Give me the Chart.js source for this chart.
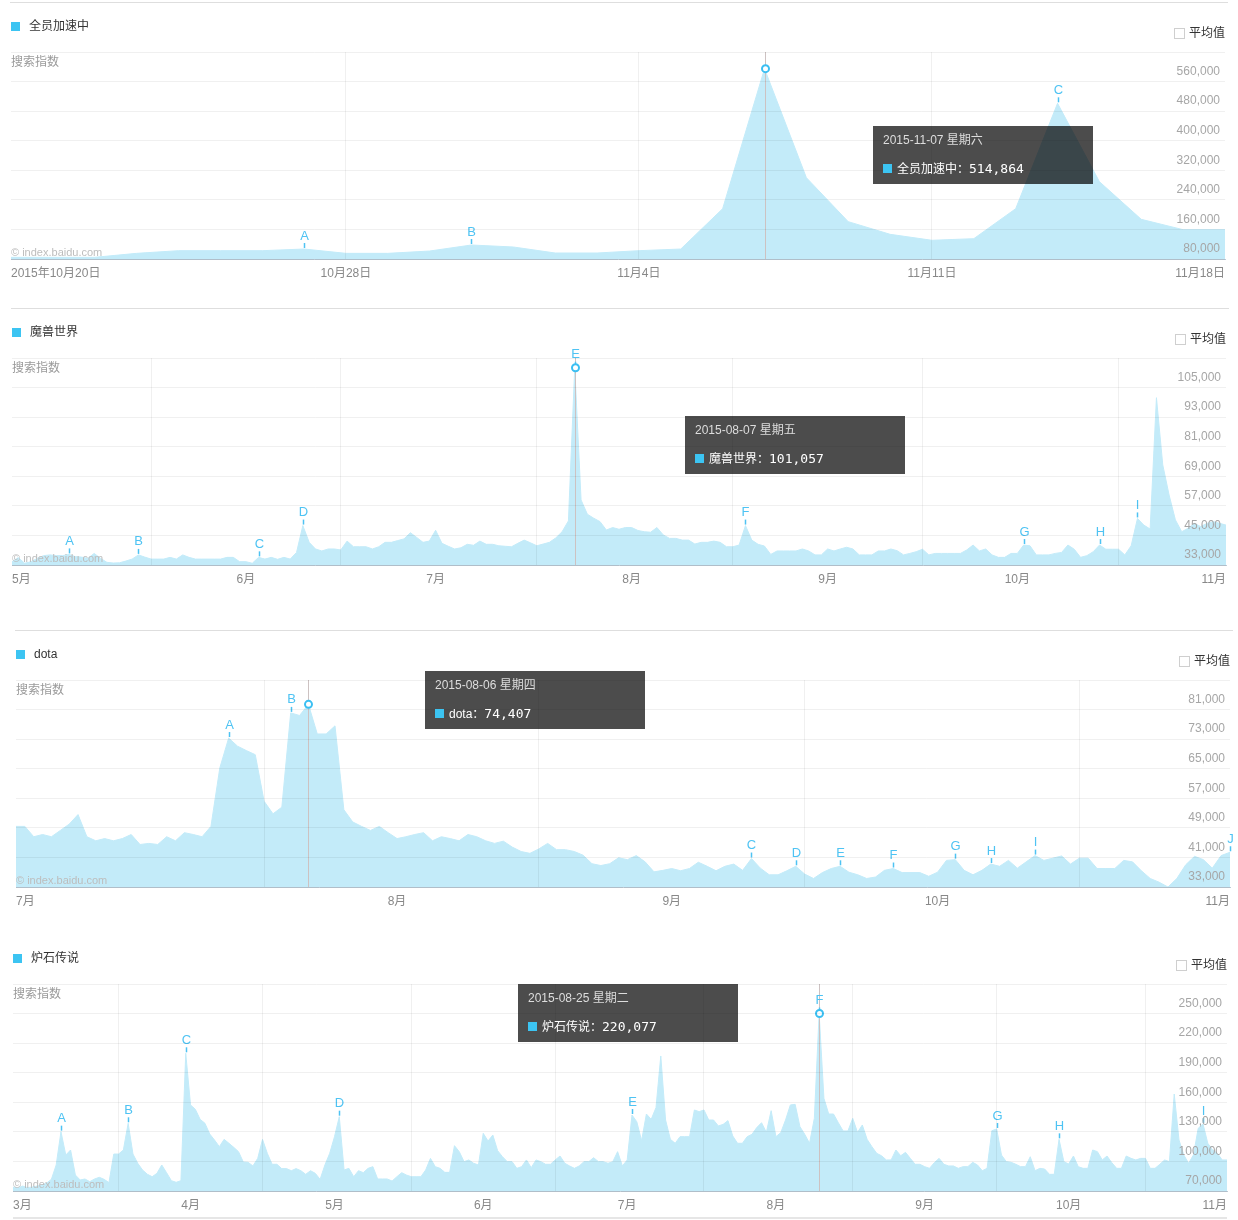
<!DOCTYPE html>
<html lang="zh-CN">
<head>
<meta charset="utf-8">
<title>百度指数 - 搜索指数</title>
<script src="https://cdn.jsdelivr.net/npm/chart.js@4.4.1/dist/chart.umd.min.js"></script>
<style>
html, body { margin: 0; padding: 0; background: #fff; }
body { position: relative; width: 1238px; height: 1220px; overflow: hidden;
       font-family: "Liberation Sans", "Noto Sans CJK SC", sans-serif; font-size: 12px; }
canvas { position: absolute; left: 0; z-index: 1; }
.sep { position: absolute; height: 1px; background: #dedede; }
.legend { position: absolute; z-index: 2; color: #333; line-height: 16px; white-space: nowrap; }
.legend i { position: absolute; left: 0; top: 4px; width: 9px; height: 9px; background: #3cc4f2; }
.legend span { padding-left: 18px; }
.avg { position: absolute; z-index: 2; color: #333; line-height: 16px; white-space: nowrap; }
.avg i { position: absolute; left: 0; top: 3px; box-sizing: border-box; width: 11px; height: 11px; border: 1px solid #cfcfcf; background: #fff; }
.avg span { padding-left: 15px; }
.ylabel { position: absolute; z-index: 2; color: #9a9a9a; line-height: 16px; }
.mark { position: absolute; z-index: 2; color: #bdbdbd; font-size: 11px; line-height: 14px; white-space: nowrap; }
.tip { position: absolute; z-index: 3; width: 220px; height: 58px; background: rgba(0,0,0,0.7); }
.tip .t { position: absolute; left: 10px; top: 6px; line-height: 16px; color: #ddd; font-size: 12px; white-space: nowrap; }
.tip .b { position: absolute; left: 10px; top: 35px; line-height: 16px; color: #fff; font-size: 12px; white-space: nowrap; }
.tip .b i { display: inline-block; width: 9px; height: 9px; background: #3cc4f2; margin-right: 5px; }
.tip .b em { font-style: normal; font-family: "DejaVu Sans Mono", monospace; font-size: 13px; }
</style>
</head>
<body>
<script>
// 全员加速中 (2015-10-20 起, 每日)
var p1Start = '2015-10-20';
var p1Values = [4500, 4500, 4500, 15300, 22500, 22500, 22500, 27000, 15300, 15300,
                21600, 37900, 32500, 16200, 16200, 22500, 27000, 136100, 514864, 220000,
                101000, 66800, 50600, 55000, 136100, 421200, 209200, 107300, 79300, 79300];
var p1TickDays = [0, 8, 15, 22, 29];
var p1TickLabels = ['2015年10月20日', '10月28日', '11月4日', '11月11日', '11月18日'];
var p1GridDays = [8, 15, 22];
var p1YTicks = [0, 80000, 160000, 240000, 320000, 400000, 480000, 560000];
var p1MarkLetters = ['A', 'B', 'C'];
var p1MarkDays = [7, 11, 25];
var p1SelDay = 18;

// 魔兽世界 (2015-05-10 起, 每日)
var wowStart = '2015-05-10';
var wowValues = [
  22350, 24000, 21700, 22350, 23700, 24800, 25100, 24800, 24800, 25300,
  24400, 24200, 23700, 25700, 23700, 22100, 21800, 21900, 22600, 23400,
  25100, 24200, 23400, 23400, 23400, 24100, 23400, 25100, 24100, 23400,
  23400, 23400, 23400, 23400, 24100, 24100, 22350, 22350, 21700, 24100,
  23400, 24100, 23300, 24100, 23400, 26100, 37000, 30200, 27500, 26700,
  27500, 27500, 27100, 30700, 28400, 28400, 28400, 27500, 28400, 30200,
  30200, 30900, 31600, 34100, 32200, 30200, 30700, 35100, 29800, 28600,
  27500, 28000, 29400, 29000, 30700, 29400, 29400, 28800, 28600, 28400,
  29800, 31100, 30000, 28800, 29500, 30200, 32000, 34500, 38900, 101057,
  47400, 41600, 40000, 38600, 35200, 36200, 35500, 36200, 36200, 35000,
  34500, 34300, 36200, 33200, 31800, 31800, 31100, 31100, 29500, 30200,
  30200, 30700, 30200, 28400, 28400, 29100, 37000, 31100, 29400, 28700,
  25300, 26700, 26700, 26700, 26700, 27500, 26700, 25100, 25100, 27500,
  26700, 27500, 28200, 27500, 25100, 25100, 25100, 26700, 26700, 27500,
  26800, 25100, 25700, 26400, 27400, 25100, 25700, 25700, 25700, 25700,
  25700, 27100, 29100, 26700, 27500, 25100, 24100, 24100, 25700, 25700,
  29100, 28800, 25100, 25100, 25100, 25700, 26100, 29100, 27400, 24100,
  24800, 26400, 29100, 27400, 27400, 27400, 25100, 28800, 39900, 37200,
  35600, 88900, 61600, 49400, 39300, 34500, 35900, 37900, 36600, 37900,
  38600, 37900, 37200];
var wowTickDays = [0, 37, 67, 98, 129, 159, 192];
var wowTickLabels = ['5月', '6月', '7月', '8月', '9月', '10月', '11月'];
var wowGridDays = [22, 52, 83, 114, 144, 175];
var wowYTicks = [21000, 33000, 45000, 57000, 69000, 81000, 93000, 105000];
var wowMarkLetters = ['A', 'B', 'C', 'D', 'E', 'F', 'G', 'H', 'I'];
var wowMarkDays = [9, 20, 39, 46, 89, 116, 160, 172, 178];
var wowSelDay = 89;

// dota (2015-07-04 起, 每日)
var dotaStart = '2015-07-04';
var dotaValues = [
  41400, 41400, 38600, 39200, 38600, 40300, 42000, 44600, 38600, 37500,
  38100, 37500, 38100, 39200, 36500, 36800, 36500, 38600, 37500, 39700,
  39200, 38600, 41400, 57200, 65300, 63100, 61900, 60800, 48200, 44800,
  46600, 72100, 71400, 74407, 66400, 66400, 68600, 45900, 42600, 41400,
  40300, 41400, 39700, 38100, 38600, 39200, 39700, 37500, 38600, 38100,
  37500, 39200, 38600, 37500, 36800, 37400, 35800, 34600, 34100, 35300,
  36800, 35100, 35100, 34600, 33600, 31300, 30800, 31300, 32900, 32400,
  33500, 31800, 29100, 29500, 30000, 29400, 30000, 31700, 30600, 29400,
  30600, 31200, 29500, 32700, 30100, 28300, 28300, 29400, 30600, 28500,
  27300, 28900, 30000, 30600, 29000, 28300, 27300, 27700, 29500, 30000,
  28900, 28900, 28900, 27900, 29000, 32200, 32400, 29500, 28300, 29500,
  31200, 30600, 32200, 30100, 31800, 33500, 32200, 32800, 33400, 31200,
  32800, 32800, 30000, 30000, 30000, 32200, 31800, 29400, 27300, 26300,
  25000, 27300, 31000, 33300, 32400, 30100, 33500, 34400];
var dotaTickDays = [0, 43, 74, 104, 137];
var dotaTickLabels = ['7月', '8月', '9月', '10月', '11月'];
var dotaGridDays = [28, 59, 89, 120];
var dotaYTicks = [25000, 33000, 41000, 49000, 57000, 65000, 73000, 81000];
var dotaMarkLetters = ['A', 'B', 'C', 'D', 'E', 'F', 'G', 'H', 'I', 'J'];
var dotaMarkDays = [24, 31, 83, 88, 93, 99, 106, 110, 115, 137];
var dotaSelDay = 33;

// 炉石传说 (2015-03-10 起, 每日)
var hsStart = '2015-03-10';
var hsValues = [
  44000, 43000, 45000, 43500, 44000, 45000, 46000, 48000, 51800, 66400,
  100200, 76500, 81600, 56200, 51200, 52200, 49500, 52200, 53900, 51800,
  48500, 77500, 77500, 81600, 108700, 77500, 68100, 61300, 57000, 54500,
  57900, 66400, 58600, 50500, 48800, 50500, 179700, 127300, 122900, 112700,
  108700, 97800, 91700, 85000, 92400, 88400, 84300, 79900, 69400, 69100,
  65400, 73100, 92400, 78200, 67100, 67100, 62700, 62700, 60600, 62700,
  60600, 56900, 60600, 57900, 51800, 66400, 78200, 95100, 115400, 61300,
  63000, 54500, 60600, 58600, 63000, 64700, 52200, 52200, 52200, 50100,
  54500, 58600, 56200, 54500, 54500, 54500, 61300, 73100, 64700, 63000,
  58900, 58900, 86000, 79900, 69800, 71500, 68100, 66400, 98500, 90700,
  96800, 80900, 74800, 69800, 69800, 63000, 64700, 71500, 63700, 71500,
  69800, 67100, 67100, 71500, 75500, 68100, 65400, 63000, 65400, 69800,
  69800, 73800, 69800, 69800, 68100, 69800, 79900, 65400, 71500, 117100,
  110300, 91100, 118100, 112700, 124600, 177000, 112000, 92400, 88400, 95100,
  95100, 95100, 122200, 120500, 122200, 112000, 112000, 106000, 107600, 111400,
  95800, 88400, 88400, 95100, 97500, 104300, 109300, 99500, 121500, 95100,
  99200, 112000, 127300, 127900, 105300, 97500, 88400, 113700, 220077, 134000,
  118100, 118100, 109300, 100900, 100900, 113700, 99500, 107000, 92400, 85000,
  78200, 75800, 71500, 71500, 81600, 75800, 79200, 73100, 67100, 67100,
  64700, 63000, 68700, 73100, 67100, 65400, 65400, 63000, 64700, 64700,
  69100, 66400, 60600, 63000, 101200, 102900, 76500, 69800, 69100, 67100,
  64700, 64700, 74800, 60600, 63000, 62300, 56900, 56900, 92400, 69800,
  67400, 75500, 64700, 63000, 63000, 81600, 79900, 71500, 75500, 68700,
  63000, 63000, 75500, 73100, 71500, 73100, 73100, 63000, 63000, 67100,
  71500, 69800, 138400, 91700, 76500, 68100, 76500, 103600, 108000, 88400,
  81600, 78200, 71500, 71500];
var hsTickDays = [0, 37, 67, 98, 128, 159, 190, 220, 253];
var hsTickLabels = ['3月', '4月', '5月', '6月', '7月', '8月', '9月', '10月', '11月'];
var hsGridDays = [22, 52, 83, 113, 144, 175, 205, 236];
var hsYTicks = [40000, 70000, 100000, 130000, 160000, 190000, 220000, 250000];
var hsMarkLetters = ['A', 'B', 'C', 'D', 'E', 'F', 'G', 'H', 'I'];
var hsMarkDays = [10, 24, 36, 68, 129, 168, 205, 218, 248];
var hsSelDay = 168;

var FONT = '"Liberation Sans", "Noto Sans CJK SC", sans-serif';
var AREA = 'rgb(195, 235, 249)';
var GRID = 'rgba(0, 0, 0, 0.06)';
var BLUE = '#4ec3f3';
var WEEK = ['星期日', '星期一', '星期二', '星期三', '星期四', '星期五', '星期六'];

Chart.defaults.font.family = FONT;
Chart.defaults.font.size = 12;

// 字母标注、选中点的竖线和小圆圈
var baiduMarks = {
    id: 'baiduMarks',
    afterDatasetsDraw: function(chart, args, opts) {
        var ctx = chart.ctx;
        var xs = chart.scales.x, ys = chart.scales.y, area = chart.chartArea;
        var pts = chart.data.datasets[0].data;
        var sx = Math.round(xs.getPixelForValue(opts.selDay)) + 0.5;
        var sy = ys.getPixelForValue(pts[opts.selDay].y);
        ctx.save();
        ctx.strokeStyle = '#cdc2c2';
        ctx.lineWidth = 1;
        ctx.beginPath();
        ctx.moveTo(sx, area.top);
        ctx.lineTo(sx, area.bottom);
        ctx.stroke();

        ctx.fillStyle = BLUE;
        ctx.strokeStyle = BLUE;
        ctx.lineWidth = 1.5;
        ctx.font = '13px ' + FONT;
        ctx.textAlign = 'center';
        ctx.textBaseline = 'middle';
        opts.letters.forEach(function(letter, i) {
            var d = opts.days[i];
            var x = Math.round(xs.getPixelForValue(d)) + 0.5;
            var y = ys.getPixelForValue(pts[d].y);
            ctx.beginPath();
            ctx.moveTo(x, y - 6);
            ctx.lineTo(x, y - 1);
            ctx.stroke();
            ctx.fillText(letter, x, y - 13);
        });

        ctx.beginPath();
        ctx.arc(sx, sy, 3.5, 0, Math.PI * 2);
        ctx.fillStyle = '#fff';
        ctx.fill();
        ctx.lineWidth = 2;
        ctx.strokeStyle = '#3bbff2';
        ctx.stroke();
        ctx.restore();
    }
};

function addDiv(cls, css, html) {
    var el = document.createElement('div');
    el.className = cls;
    for (var k in css) el.style[k] = css[k] + 'px';
    if (html) el.innerHTML = html;
    document.body.appendChild(el);
    return el;
}

function dayText(start, d) {
    var t = new Date(start + 'T00:00:00Z');
    t.setUTCDate(t.getUTCDate() + d);
    var mm = String(t.getUTCMonth() + 1).padStart(2, '0');
    var dd = String(t.getUTCDate()).padStart(2, '0');
    return t.getUTCFullYear() + '-' + mm + '-' + dd + ' ' + WEEK[t.getUTCDay()];
}

function buildPanel(p) {
    var top = p.plotTop, left = p.plotLeft, right = p.plotRight, bottom = p.plotTop + 207;

    if (p.sepTop) addDiv('sep', {left: left - 1, top: top - 50, width: right - left + 4});
    if (p.sepBottom) {
        var s = addDiv('sep', {left: left, top: bottom + 26, width: right - left, height: 2});
        s.style.background = '#e6e6e6';
    }
    addDiv('legend', {left: left, top: top - 34}, '<i></i><span>' + p.name + '</span>');
    addDiv('avg', {left: right - 51, top: top - 27.5}, '<i></i><span>平均值</span>');
    addDiv('ylabel', {left: left, top: top + 2}, '搜索指数');
    addDiv('mark', {left: left, top: bottom - 14}, '© index.baidu.com');

    var canvasTop = top - 20;
    var canvas = document.createElement('canvas');
    canvas.width = 1238;
    canvas.height = 257;
    canvas.style.top = canvasTop + 'px';
    document.body.appendChild(canvas);

    var labelMap = {};
    p.tickDays.forEach(function(d, i) { labelMap[d] = p.tickLabels[i]; });
    var xTicks = p.tickDays.concat(p.gridDays.filter(function(d) {
        return p.tickDays.indexOf(d) < 0;
    })).sort(function(a, b) { return a - b; });
    var lastDay = p.values.length - 1;
    var yMin = p.yTicks[0], yMax = p.yTicks[p.yTicks.length - 1];
    var setYTicks = function(s) {
        s.ticks = p.yTicks.map(function(v) { return {value: v}; });
    };

    var chart = new Chart(canvas, {
        type: 'line',
        data: {
            datasets: [{
                label: p.name,
                data: p.values.map(function(v, i) { return {x: i, y: v}; }),
                fill: 'start',
                backgroundColor: AREA,
                borderColor: AREA,
                borderWidth: 1,
                pointRadius: 0,
                tension: 0
            }]
        },
        options: {
            responsive: false,
            animation: false,
            events: [],
            layout: {padding: {top: 20, left: left, right: 1238 - right, bottom: 0}},
            plugins: {
                legend: {display: false},
                tooltip: {enabled: false},
                baiduMarks: {letters: p.markLetters, days: p.markDays, selDay: p.selDay}
            },
            scales: {
                x: {
                    type: 'linear',
                    min: 0,
                    max: lastDay,
                    afterBuildTicks: function(s) {
                        s.ticks = xTicks.map(function(v) { return {value: v}; });
                    },
                    afterFit: function(s) { s.height = 30; },
                    grid: {
                        z: 1,
                        drawTicks: false,
                        color: function(c) {
                            return c.tick && p.gridDays.indexOf(c.tick.value) >= 0 ? GRID : 'rgba(0,0,0,0)';
                        }
                    },
                    border: {display: true, color: '#bccad6', width: 1, z: 1},
                    ticks: {
                        z: 1,
                        autoSkip: false,
                        maxRotation: 0,
                        align: 'inner',
                        padding: 7,
                        color: '#888',
                        callback: function(v) { return labelMap[v] !== undefined ? labelMap[v] : ''; }
                    }
                },
                y: {
                    position: 'right',
                    min: yMin,
                    max: yMax,
                    afterBuildTicks: setYTicks,
                    afterFit: function(s) { s.width = 0; },
                    grid: {z: 1, drawTicks: false, color: GRID},
                    border: {display: false},
                    ticks: {
                        z: 2,
                        mirror: true,
                        padding: -5,
                        labelOffset: 19.5,
                        color: '#a6a6a6',
                        callback: function(v) { return v === yMin ? '' : v.toLocaleString('en-US'); }
                    }
                }
            }
        },
        plugins: [baiduMarks]
    });

    // 悬停提示框, 位置由选中点的像素算出
    var sel = p.values[p.selDay];
    var px = chart.scales.x.getPixelForValue(p.selDay);
    var py = chart.scales.y.getPixelForValue(sel);
    addDiv('tip', {left: Math.round(px + p.tipDx), top: Math.round(canvasTop + py + p.tipDy)},
        '<div class="t">' + dayText(p.start, p.selDay) + '</div>' +
        '<div class="b"><i></i>' + p.name + '：<em>' + sel.toLocaleString('en-US') + '</em></div>');
}

buildPanel({name: '全员加速中', start: p1Start, values: p1Values, tickDays: p1TickDays, tickLabels: p1TickLabels,
    gridDays: p1GridDays, yTicks: p1YTicks, markLetters: p1MarkLetters, markDays: p1MarkDays, selDay: p1SelDay,
    plotTop: 52, plotLeft: 11, plotRight: 1225, sepTop: true, tipDx: 108, tipDy: 57});
buildPanel({name: '魔兽世界', start: wowStart, values: wowValues, tickDays: wowTickDays, tickLabels: wowTickLabels,
    gridDays: wowGridDays, yTicks: wowYTicks, markLetters: wowMarkLetters, markDays: wowMarkDays, selDay: wowSelDay,
    plotTop: 358, plotLeft: 12, plotRight: 1226, sepTop: true, tipDx: 110, tipDy: 48});
buildPanel({name: 'dota', start: dotaStart, values: dotaValues, tickDays: dotaTickDays, tickLabels: dotaTickLabels,
    gridDays: dotaGridDays, yTicks: dotaYTicks, markLetters: dotaMarkLetters, markDays: dotaMarkDays, selDay: dotaSelDay,
    plotTop: 680, plotLeft: 16, plotRight: 1230, sepTop: true, tipDx: 117, tipDy: -33});
buildPanel({name: '炉石传说', start: hsStart, values: hsValues, tickDays: hsTickDays, tickLabels: hsTickLabels,
    gridDays: hsGridDays, yTicks: hsYTicks, markLetters: hsMarkLetters, markDays: hsMarkDays, selDay: hsSelDay,
    plotTop: 984, plotLeft: 13, plotRight: 1227, sepBottom: true, tipDx: -301, tipDy: -29});
</script>
</body>
</html>
